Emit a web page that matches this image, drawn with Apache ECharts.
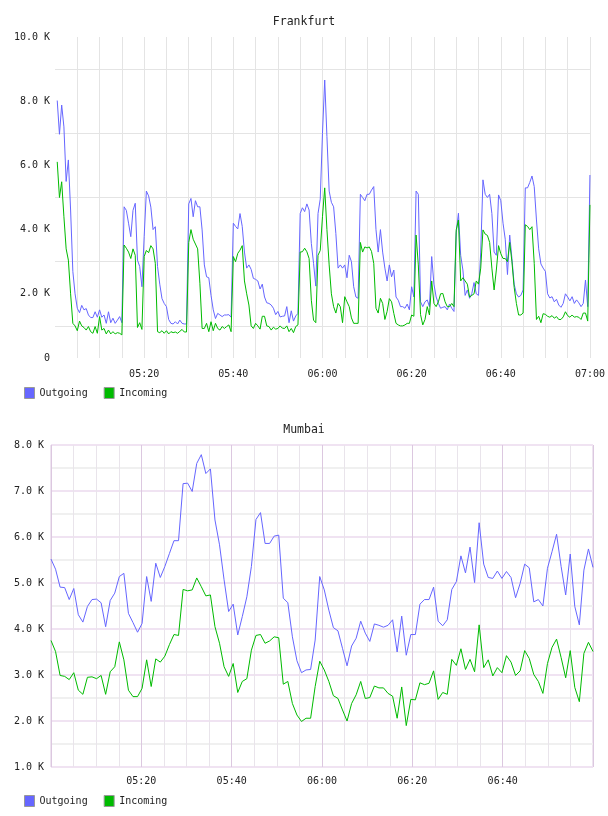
<!DOCTYPE html>
<html>
<head>
<meta charset="utf-8">
<script src="https://cdn.jsdelivr.net/npm/echarts@6/dist/echarts.min.js"></script>
<style>
  html, body { margin: 0; padding: 0; background: #fff; }
  #chart { width: 608px; height: 816px; }
</style>
</head>
<body>
<div id="chart"></div>
<script>
// minutes after 05:00, values in K
const frankfurtStep = 0.5
const frankfurtOutgoing = [
  8.02, 6.97, 7.88, 7.2, 5.5, 6.17, 4.61, 2.7, 2.0, 1.55,
  1.41, 1.64, 1.50, 1.54, 1.34, 1.26, 1.26, 1.44, 1.27, 1.50,
  1.27, 1.34, 1.08, 1.44, 1.10, 1.24, 1.08, 1.18, 1.29, 1.10,
  4.71, 4.6, 4.2, 3.78, 4.6, 4.82, 3.05, 2.85, 2.22, 3.78,
  5.2, 5.05, 4.7, 4.0, 4.09, 2.85, 2.3, 1.85, 1.7, 1.6,
  1.2, 1.08, 1.06, 1.13, 1.06, 1.18, 1.08, 1.06, 1.06, 4.8,
  4.97, 4.4, 4.9, 4.71, 4.71, 3.99, 2.9, 2.53, 2.5, 1.95,
  1.5, 1.23, 1.39, 1.34, 1.29, 1.34, 1.34, 1.35, 1.27, 4.20,
  4.1, 4.02, 4.5, 4.1, 3.3, 2.8, 2.9, 2.76, 2.48, 2.45,
  2.4, 2.15, 2.3, 1.9, 1.72, 1.70, 1.65, 1.55, 1.35, 1.45,
  1.28, 1.3, 1.31, 1.6, 1.10, 1.47, 1.15, 1.31, 1.39, 4.5,
  4.68, 4.56, 4.8, 4.61, 3.57, 2.95, 2.24, 4.5, 4.95, 7.0,
  8.66, 6.9, 5.2, 4.85, 4.71, 3.88, 2.8, 2.9, 2.8, 2.9,
  2.5, 3.2, 3.0, 2.22, 1.9, 1.86, 5.1, 5.0, 4.9, 5.1,
  5.1, 5.23, 5.34, 4.0, 3.3, 4.0, 3.3, 2.8, 2.4, 2.9,
  2.53, 2.74, 1.9, 1.8, 1.6, 1.6, 1.55, 1.68, 1.5, 2.22,
  1.9, 5.2, 5.1, 1.75, 1.6, 1.75, 1.81, 1.6, 3.16, 2.3,
  1.9, 1.7, 1.55, 1.58, 1.6, 1.5, 1.68, 1.55, 1.45, 3.9,
  4.51, 3.2, 2.74, 1.95, 2.12, 1.86, 2.01, 2.35, 2.0, 1.95,
  3.3, 5.55, 5.1, 5.0, 5.1, 4.5, 3.3, 3.2, 5.08, 4.9,
  4.2, 3.7, 2.6, 3.83, 3.1, 2.3, 2.0, 1.9, 1.95, 2.12,
  5.3, 5.3, 5.47, 5.67, 5.34, 4.3, 3.4, 2.93, 2.8, 2.7,
  2.0, 1.87, 1.91, 1.75, 1.83, 1.65, 1.58, 1.7, 2.0, 1.9,
  1.78, 1.91, 1.7, 1.81, 1.72, 1.6, 1.7, 2.43, 1.6, 5.70
]
const frankfurtIncoming = [
  6.11, 5.0, 5.49, 4.4, 3.4, 3.05, 2.0, 1.08, 1.0, 0.85,
  1.15, 1.0, 0.95, 0.87, 0.98, 0.82, 0.77, 0.98, 0.77, 1.29,
  0.87, 0.92, 0.75, 0.87, 0.75, 0.82, 0.75, 0.79, 0.77, 0.72,
  3.52, 3.42, 3.3, 3.1, 3.4, 3.2, 0.95, 1.10, 0.89, 3.16,
  3.35, 3.28, 3.5, 3.4, 2.95, 0.82, 0.79, 0.85, 0.77, 0.85,
  0.75, 0.82, 0.79, 0.81, 0.77, 0.83, 0.89, 0.81, 0.81, 3.6,
  4.0, 3.7, 3.55, 3.4, 2.33, 0.92, 0.92, 1.08, 0.82, 1.13,
  0.85, 1.08, 0.92, 0.87, 0.98, 0.92, 0.98, 1.03, 0.82, 3.16,
  3.0, 3.26, 3.36, 3.5, 2.4, 2.0, 1.65, 1.0, 0.92, 1.08,
  1.0, 0.9, 1.3, 1.3, 1.0, 0.98, 0.87, 0.96, 0.90, 0.92,
  1.0, 0.93, 0.92, 1.0, 0.82, 0.92, 0.79, 0.98, 1.03, 3.3,
  3.31, 3.42, 3.31, 3.1, 1.8, 1.18, 1.1, 3.2, 3.35, 4.40,
  5.3, 4.0, 2.9, 2.0, 1.6, 1.4, 1.7, 1.60, 1.1, 1.91,
  1.75, 1.6, 1.25, 1.08, 1.08, 1.08, 3.6, 3.3, 3.46, 3.43,
  3.46, 3.32, 2.95, 1.55, 1.4, 1.86, 1.7, 1.2, 1.45, 1.85,
  1.75, 1.39, 1.08, 1.03, 1.0, 1.0, 1.03, 1.08, 1.08, 1.34,
  1.3, 3.83, 2.9, 1.35, 1.03, 1.2, 1.6, 1.34, 2.4, 1.7,
  1.6, 1.75, 2.0, 2.01, 1.75, 1.6, 1.6, 1.7, 1.6, 3.99,
  4.3, 2.4, 2.5, 2.4, 2.3, 1.9, 1.95, 2.0, 2.4, 2.3,
  2.8, 3.99, 3.86, 3.82, 3.6, 2.8, 2.12, 2.74, 3.5, 3.25,
  3.1, 3.1, 3.0, 3.6, 3.0, 2.2, 1.7, 1.34, 1.34, 1.4,
  4.15, 4.1, 4.0, 4.09, 2.95, 1.2, 1.3, 1.1, 1.38, 1.36,
  1.3, 1.27, 1.32, 1.24, 1.29, 1.2, 1.2, 1.28, 1.44, 1.32,
  1.27, 1.34, 1.27, 1.29, 1.27, 1.2, 1.4, 1.4, 1.15, 4.77
]

const mumbaiStep = 120 / 119
const mumbaiOutgoing = [
  5.52, 5.30, 4.91, 4.90, 4.64, 4.88, 4.31, 4.15, 4.49, 4.64,
  4.65, 4.57, 4.05, 4.62, 4.78, 5.14, 5.21, 4.34, 4.14, 3.93,
  4.12, 5.14, 4.60, 5.43, 5.12, 5.36, 5.64, 5.92, 5.92, 7.16,
  7.17, 6.99, 7.60, 7.79, 7.38, 7.48, 6.37, 5.83, 5.07, 4.38,
  4.54, 3.87, 4.27, 4.70, 5.36, 6.38, 6.53, 5.86, 5.86, 6.02,
  6.04, 4.67, 4.57, 3.83, 3.31, 3.05, 3.11, 3.12, 3.76, 5.14,
  4.85, 4.41, 4.03, 3.96, 3.58, 3.20, 3.63, 3.80, 4.17, 3.91,
  3.73, 4.11, 4.08, 4.04, 4.08, 4.20, 3.50, 4.28, 3.43, 3.88,
  3.88, 4.54, 4.64, 4.64, 4.91, 4.17, 4.07, 4.20, 4.86, 5.03,
  5.59, 5.22, 5.78, 5.01, 6.31, 5.41, 5.12, 5.10, 5.26, 5.10,
  5.25, 5.12, 4.68, 4.99, 5.41, 5.33, 4.59, 4.64, 4.50, 5.32,
  5.68, 6.06, 5.36, 4.74, 5.63, 4.49, 4.09, 5.28, 5.74, 5.34
]
const mumbaiIncoming = [
  3.75, 3.51, 2.99, 2.97, 2.90, 3.05, 2.67, 2.58, 2.95, 2.96,
  2.92, 2.99, 2.58, 3.07, 3.18, 3.72, 3.33, 2.67, 2.53, 2.53,
  2.71, 3.33, 2.75, 3.35, 3.28, 3.41, 3.66, 3.88, 3.86, 4.86,
  4.83, 4.85, 5.11, 4.92, 4.72, 4.74, 4.05, 3.69, 3.18, 2.97,
  3.25, 2.62, 2.86, 2.92, 3.54, 3.86, 3.88, 3.69, 3.74, 3.83,
  3.81, 2.80, 2.86, 2.38, 2.13, 1.99, 2.06, 2.06, 2.75, 3.30,
  3.11, 2.86, 2.55, 2.49, 2.24, 2.00, 2.38, 2.57, 2.86, 2.49,
  2.51, 2.76, 2.72, 2.72, 2.60, 2.54, 2.06, 2.74, 1.90, 2.47,
  2.46, 2.83, 2.79, 2.82, 3.09, 2.47, 2.62, 2.58, 3.34, 3.21,
  3.57, 3.12, 3.34, 3.07, 4.09, 3.16, 3.33, 2.98, 3.16, 3.05,
  3.42, 3.28, 2.99, 3.09, 3.53, 3.36, 3.01, 2.86, 2.60, 3.25,
  3.60, 3.78, 3.38, 2.94, 3.53, 2.73, 2.42, 3.47, 3.71, 3.51
]

const seriesNames = ['Outgoing', 'Incoming']
const seriesColors = ['#6666ff', '#00bb00']
const font = 'DejaVu Sans Mono'

function timeLabel(v) {
  const h = 5 + Math.floor(v / 60)
  const m = v % 60
  return String(h).padStart(2, '0') + ':' + String(m).padStart(2, '0')
}

function kLabel(v) {
  return v === 0 ? '0' : v.toFixed(1) + ' K'
}

const chart = echarts.init(document.getElementById('chart'), null, {renderer: 'canvas'})

const titleStyle = {fontFamily: font, fontSize: 11.5, fontWeight: 'normal', color: '#222'}
const labelStyle = {fontFamily: font, fontSize: 10, color: '#222'}
const legendBase = {
  left: 24,
  padding: 0,
  orient: 'horizontal',
  icon: 'rect',
  itemWidth: 10,
  itemHeight: 11,
  itemGap: 16,
  itemStyle: {borderColor: '#999', borderWidth: 1},
  textStyle: {fontFamily: font, fontSize: 10, color: '#222'},
  data: seriesNames,
  selectedMode: false
}

const option = {
  animation: false,
  backgroundColor: '#fff',
  title: [
    {text: 'Frankfurt', left: 'center', top: 16, textStyle: titleStyle, padding: 0},
    {text: 'Mumbai', left: 'center', top: 424, textStyle: titleStyle, padding: 0}
  ],
  legend: [
    Object.assign({top: 387}, legendBase),
    Object.assign({top: 795}, legendBase)
  ],
  grid: [
    {left: 55, right: 17, top: 37, height: 321},
    {left: 51, right: 15, top: 445, height: 322, show: true, borderColor: '#dcc8e0', borderWidth: 1}
  ],
  xAxis: [
    {
      gridIndex: 0,
      type: 'value',
      min: 0,
      max: 120,
      interval: 20,
      axisLine: {show: false},
      axisTick: {show: false},
      axisLabel: Object.assign({
        margin: 11,
        formatter: v => (v > 0 && v % 20 === 0) ? timeLabel(v) : ''
      }, labelStyle),
      splitLine: {show: true, showMinLine: false, lineStyle: {color: '#e4e4e4', width: 1}},
      minorTick: {show: false, splitNumber: 4},
      minorSplitLine: {show: true, lineStyle: {color: '#e4e4e4', width: 1}}
    },
    {
      gridIndex: 1,
      type: 'value',
      min: 0,
      max: 120,
      interval: 20,
      axisLine: {show: false},
      axisTick: {show: false},
      axisLabel: Object.assign({
        margin: 9,
        formatter: v => (v > 0 && v < 120 && v % 20 === 0) ? timeLabel(v) : ''
      }, labelStyle),
      splitLine: {show: true, lineStyle: {color: '#dcc8e0', width: 1}},
      minorTick: {show: false, splitNumber: 4},
      minorSplitLine: {show: true, lineStyle: {color: '#e9e4eb', width: 1}}
    }
  ],
  yAxis: [
    {
      gridIndex: 0,
      type: 'value',
      min: 0,
      max: 10,
      interval: 2,
      axisLine: {show: false},
      axisTick: {show: false},
      axisLabel: Object.assign({margin: 5, formatter: kLabel}, labelStyle),
      splitLine: {show: false},
      minorTick: {show: false, splitNumber: 2},
      minorSplitLine: {show: true, lineStyle: {color: '#e4e4e4', width: 1}}
    },
    {
      gridIndex: 1,
      type: 'value',
      min: 1,
      max: 8,
      interval: 1,
      axisLine: {show: false},
      axisTick: {show: false},
      axisLabel: Object.assign({margin: 7, formatter: kLabel}, labelStyle),
      splitLine: {show: true, lineStyle: {color: '#f0e3f2', width: 2}},
      minorTick: {show: false, splitNumber: 2},
      minorSplitLine: {show: true, lineStyle: {color: '#f0f0f0', width: 2}}
    }
  ],
  series: [
    {
      name: 'Outgoing', type: 'line', xAxisIndex: 0, yAxisIndex: 0,
      symbol: 'none', color: seriesColors[0], lineStyle: {width: 1},
      data: frankfurtOutgoing.map((v, i) => [frankfurtStep * (i + 1), v])
    },
    {
      name: 'Incoming', type: 'line', xAxisIndex: 0, yAxisIndex: 0,
      symbol: 'none', color: seriesColors[1], lineStyle: {width: 1},
      data: frankfurtIncoming.map((v, i) => [frankfurtStep * (i + 1), v])
    },
    {
      name: 'Outgoing', type: 'line', xAxisIndex: 1, yAxisIndex: 1,
      symbol: 'none', color: seriesColors[0], lineStyle: {width: 1},
      data: mumbaiOutgoing.map((v, i) => [mumbaiStep * i, v])
    },
    {
      name: 'Incoming', type: 'line', xAxisIndex: 1, yAxisIndex: 1,
      symbol: 'none', color: seriesColors[1], lineStyle: {width: 1},
      data: mumbaiIncoming.map((v, i) => [mumbaiStep * i, v])
    }
  ]
}

chart.setOption(option)
</script>
</body>
</html>
